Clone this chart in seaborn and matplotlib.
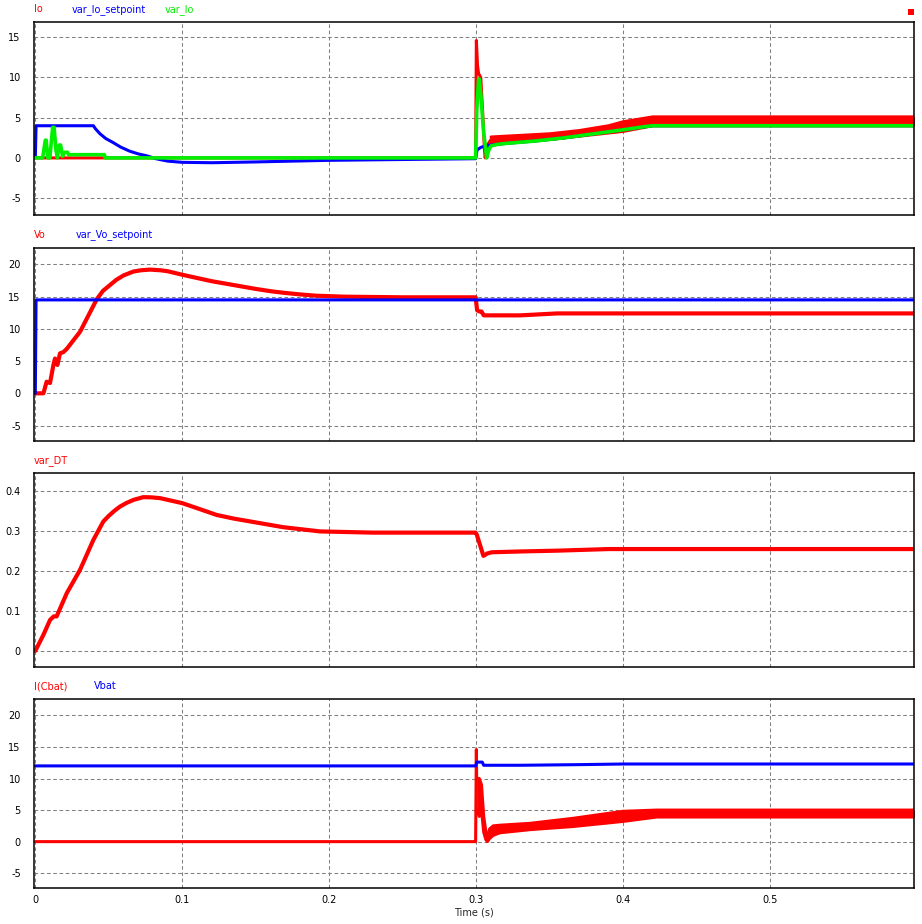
import pandas as pd
import seaborn as sns
import matplotlib.pyplot as plt
from matplotlib.patches import Rectangle


# ---- data (time in seconds) ----

# panel 1: Io / var_Io_setpoint / var_Io
t_io = [0, 0.2995, 0.3, 0.3008, 0.3015, 0.303, 0.3045, 0.3055, 0.306, 0.3075, 0.31]
io = [0, 0, 14.6, 11.5, 10.5, 10.0, 5.0, 1.0, 0.0, 1.6, 2.3]
t_io_band = [0.31, 0.33, 0.35, 0.37, 0.39, 0.40, 0.42, 0.598]
io_lo = [1.9, 2.1, 2.3, 2.7, 3.1, 3.3, 4.0, 4.0]
io_hi = [2.6, 2.8, 3.0, 3.4, 4.0, 4.5, 5.1, 5.1]

t_io_sp = [0, 0.0005, 0.0395, 0.041, 0.044, 0.048, 0.053, 0.058, 0.064, 0.070, 0.076,
           0.082, 0.090, 0.10, 0.12, 0.15, 0.20, 0.25, 0.2995, 0.3005, 0.303, 0.306,
           0.31, 0.32, 0.34, 0.36, 0.38, 0.40, 0.42, 0.598]
io_sp = [0, 4, 4, 3.6, 3.0, 2.4, 1.9, 1.35, 0.85, 0.5, 0.25,
         -0.1, -0.4, -0.55, -0.6, -0.5, -0.3, -0.2, -0.1, 1.0, 1.3, 1.5,
         1.6, 1.8, 2.1, 2.5, 3.0, 3.5, 4.0, 4.0]

t_var_io = [0, 0.005, 0.0062, 0.0068, 0.0074, 0.0085, 0.0098, 0.0102, 0.0118, 0.0128,
            0.014, 0.015, 0.0162, 0.0172, 0.0185, 0.020, 0.022, 0.0225, 0.047, 0.0475,
            0.2995, 0.3003, 0.3015, 0.302, 0.303, 0.3048, 0.307, 0.3085, 0.31, 0.315,
            0.32, 0.34, 0.36, 0.38, 0.40, 0.415, 0.42, 0.598]
var_io = [0, 0, 1.5, 2.2, 2.2, 0, 0, 0.6, 3.8, 3.8,
          1.0, 0, 1.6, 1.6, 0.2, 0.7, 0.7, 0.4, 0.4, 0,
          0, 6.0, 9.8, 9.8, 8.0, 3.5, 0, 1.0, 1.5, 1.7,
          1.8, 2.1, 2.5, 3.0, 3.5, 3.9, 4.0, 4.0]

# panel 2: Vo / var_Vo_setpoint
t_vo = [0, 0.0055, 0.0077, 0.010, 0.0123, 0.0134, 0.015, 0.0168, 0.0191, 0.0214,
        0.0304, 0.0418, 0.046, 0.0508, 0.055, 0.060, 0.0667, 0.072, 0.078, 0.085,
        0.090, 0.10, 0.11, 0.12, 0.135, 0.15, 0.16, 0.169, 0.18, 0.191,
        0.21, 0.25, 0.2995, 0.3005, 0.302, 0.3035, 0.305, 0.33, 0.355, 0.598]
vo = [0, 0, 1.8, 1.6, 4.4, 5.4, 4.4, 6.2, 6.4, 6.9,
      9.55, 14.6, 15.9, 16.8, 17.6, 18.3, 18.9, 19.1, 19.2, 19.1,
      18.95, 18.4, 17.9, 17.4, 16.8, 16.2, 15.85, 15.6, 15.35, 15.15,
      15.0, 14.9, 14.9, 12.9, 12.7, 12.7, 12.1, 12.1, 12.4, 12.4]
t_vo_sp = [0, 0.0005, 0.598]
vo_sp = [0, 14.5, 14.5]

# panel 3: var_DT
t_dt = [0, 0.0055, 0.010, 0.0125, 0.0145, 0.0214, 0.0304, 0.0395, 0.0463, 0.050,
        0.054, 0.0576, 0.062, 0.067, 0.0735, 0.079, 0.0849, 0.10, 0.11, 0.1234,
        0.135, 0.146, 0.1687, 0.1937, 0.23, 0.2995, 0.3003, 0.3048, 0.3075, 0.3105,
        0.33, 0.355, 0.39, 0.598]
var_dt = [0, 0.04, 0.077, 0.086, 0.086, 0.144, 0.202, 0.277, 0.323, 0.337,
          0.35, 0.36, 0.369, 0.377, 0.3835, 0.383, 0.381, 0.3685, 0.356, 0.339,
          0.33, 0.323, 0.3085, 0.298, 0.295, 0.295, 0.29, 0.237, 0.243, 0.246,
          0.248, 0.25, 0.254, 0.254]

# panel 4: I(Cbat) / Vbat
t_icb = [0, 0.2995, 0.3, 0.3002]
icb = [0, 0, 14.6, 10.0]
t_icb_band = [0.3002, 0.302, 0.3035, 0.305, 0.3065, 0.3075, 0.309, 0.3115, 0.316,
              0.3365, 0.366, 0.3996, 0.4227, 0.598]
icb_lo = [5.0, 4.0, 5.0, 1.5, 0.3, 0.0, 0.5, 1.0, 1.4, 1.9, 2.4, 3.2, 3.9, 3.9]
icb_hi = [10.0, 10.0, 9.0, 4.0, 1.5, 0.5, 2.0, 2.5, 2.6, 2.9, 3.7, 4.8, 5.0, 5.0]
t_vbat = [0, 0.2995, 0.3003, 0.304, 0.305, 0.33, 0.37, 0.40, 0.598]
vbat = [12, 12, 12.6, 12.6, 12.1, 12.1, 12.2, 12.3, 12.3]

x_ticks = [0, 0.1, 0.2, 0.3, 0.4, 0.5]
x_ticklabels = ['0', '0.1', '0.2', '0.3', '0.4', '0.5']

RED = '#ff0000'
BLUE = '#0000ff'
GREEN = '#00f000'
LW = 2.2

sns.set_style("white")
plt.rcParams['font.family'] = ['DejaVu Sans']

W, H = 922, 924
fig = plt.figure(figsize=(W / 100, H / 100), dpi=100)


def make_ax(top, bottom, ylim, yticks, yticklabels, labels):
    ax = fig.add_axes([34 / W, 1 - bottom / H, 880 / W, (bottom - top) / H])
    ax.set_xlim(-0.0009, 0.5977)
    ax.set_ylim(*ylim)
    ax.set_xticks(x_ticks)
    ax.set_yticks(yticks)
    ax.set_yticklabels(yticklabels)
    ax.tick_params(length=0, labelsize=7, colors='black')
    ax.tick_params(axis='y', pad=9.5)
    ax.tick_params(axis='x', pad=5)
    ax.grid(True, color='#808080', lw=0.75, linestyle=(0, (3.5, 2.5)))
    for s in ax.spines.values():
        s.set_color('black')
        s.set_linewidth(1.1)
    # trace names above the panel
    for txt, x, col in labels:
        fig.text(x / W, 1 - (top - 12.7) / H, txt, color=col, fontsize=7,
                 va='center', ha='left')
    return ax


def line(ax, t, v, color, lw=LW):
    sns.lineplot(x=t, y=v, ax=ax, color=color, lw=lw, estimator=None, sort=False)


def band(ax, t, lo, hi, color):
    ax.fill_between(t, lo, hi, color=color, lw=0)
    line(ax, t, lo, color)
    line(ax, t, hi, color)


# panel 1
ax1 = make_ax(22, 215, (-7.1, 16.9), [-5, 0, 5, 10, 15], ['-5', '0', '5', '10', '15'],
              [('Io', 33.5, RED), ('var_Io_setpoint', 71.7, BLUE), ('var_Io', 165, GREEN)])
line(ax1, t_io, io, RED)
band(ax1, t_io_band, io_lo, io_hi, RED)
line(ax1, t_io_sp, io_sp, BLUE)
line(ax1, t_var_io, var_io, GREEN, 2.6)

# panel 2
ax2 = make_ax(247.7, 441, (-7.4, 22.6), [-5, 0, 5, 10, 15, 20],
              ['-5', '0', '5', '10', '15', '20'],
              [('Vo', 33.5, RED), ('var_Vo_setpoint', 76, BLUE)])
line(ax2, t_vo, vo, RED, 3.0)
line(ax2, t_vo_sp, vo_sp, BLUE)

# panel 3
ax3 = make_ax(473.3, 667.3, (-0.041, 0.443), [0, 0.1, 0.2, 0.3, 0.4],
              ['0', '0.1', '0.2', '0.3', '0.4'], [('var_DT', 33.5, RED)])
line(ax3, t_dt, var_dt, RED, 3.0)

# panel 4
ax4 = make_ax(699, 887.7, (-7.3, 22.6), [-5, 0, 5, 10, 15, 20],
              ['-5', '0', '5', '10', '15', '20'],
              [('I(Cbat)', 33.5, RED), ('Vbat', 94.3, BLUE)])
line(ax4, t_icb, icb, RED)
band(ax4, t_icb_band, icb_lo, icb_hi, RED)
line(ax4, t_vbat, vbat, BLUE)

for ax in (ax1, ax2, ax3):
    ax.set_xticklabels([])
    ax.set_xlabel('')
    ax.set_ylabel('')
ax4.set_xticklabels(x_ticklabels)
ax4.set_ylabel('')
ax4.set_xlabel('Time (s)', fontsize=7, labelpad=2)

# little marker in the top-right corner
fig.patches.append(Rectangle((908.3 / W, 1 - 15 / H), 5.7 / W, 5.7 / H,
                             transform=fig.transFigure, color=RED, lw=0))

fig.savefig('out.png', dpi=100, facecolor='white')
